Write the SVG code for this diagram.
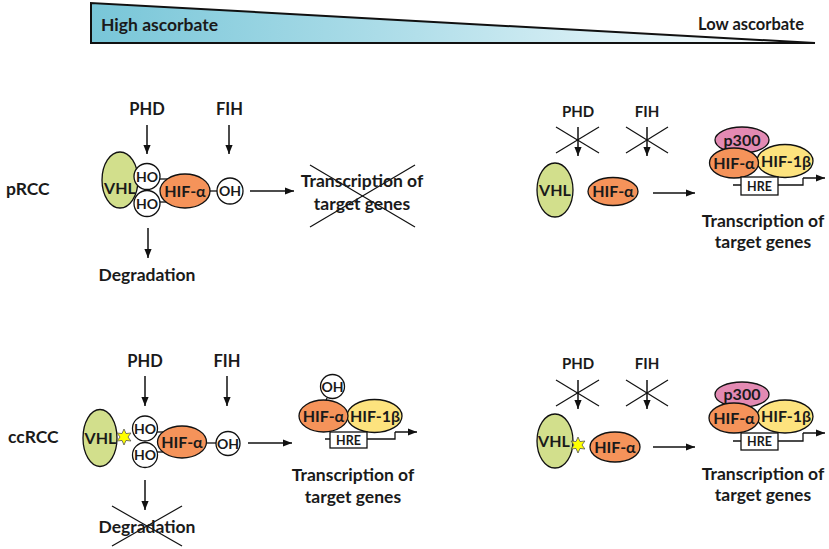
<svg xmlns="http://www.w3.org/2000/svg" width="829" height="549" viewBox="0 0 829 549">
<defs>
<linearGradient id="asc" gradientUnits="userSpaceOnUse" x1="91" y1="0" x2="815" y2="0">
<stop offset="0" stop-color="#78c6d8"/>
<stop offset="0.45" stop-color="#b2dfea"/>
<stop offset="0.85" stop-color="#eef8fb"/>
<stop offset="1" stop-color="#ffffff"/>
</linearGradient>
<marker id="ah" viewBox="0 0 10 8" refX="10" refY="4" markerWidth="9" markerHeight="7.5" markerUnits="userSpaceOnUse" orient="auto">
<path d="M0,0 L10,4 L0,8 z" fill="#111"/>
</marker>
<polygon id="star" points="0,-8 2,-3.46 6.93,-4 4,0 6.93,4 2,3.46 0,8 -2,3.46 -6.93,4 -4,0 -6.93,-4 -2,-3.46"/>
</defs>
<style>
text{font-family:Lato,"Open Sans","Liberation Sans",sans-serif;font-weight:700;fill:#1a1a1a;text-anchor:middle}
.big{font-size:17.5px}
.enz{font-size:16.5px}
.enz2{font-size:15px}
.in{font-size:16px}
.sm{font-size:14px}
.hre{font-size:12.5px}
.arr{stroke:#111;stroke-width:1.5;fill:none;marker-end:url(#ah)}
.ln{stroke:#111;stroke-width:1.3;fill:none}
.x{stroke:#111;stroke-width:1.2;fill:none}
.vhl{fill:#d2df8c;stroke:#111;stroke-width:1.3}
.hifa{fill:#f5935a;stroke:#111;stroke-width:1.3}
.hifb{fill:#fde37e;stroke:#111;stroke-width:1.3}
.p300{fill:#e38ab3;stroke:#111;stroke-width:1.3}
.oh{fill:#fff;stroke:#111;stroke-width:1.3}
.box{fill:#fff;stroke:#111;stroke-width:1.3}
.star{fill:#ffff00;stroke:#555;stroke-width:0.8}
</style>

<g id="ascorbate-gradient">
<polygon points="91,3 91,43 815,43" fill="url(#asc)" stroke="#111" stroke-width="2" stroke-linejoin="miter"/>
<text class="big" x="101" y="31" style="text-anchor:start">High ascorbate</text>
<text x="804" y="30" style="text-anchor:end;font-size:16.5px">Low ascorbate</text>
</g>

<g id="row-labels">
<text class="big" x="6" y="195" style="text-anchor:start">pRCC</text>
<text class="big" x="8" y="443" style="text-anchor:start">ccRCC</text>
</g>

<g id="connectors">
<line class="arr" x1="147" y1="125" x2="147" y2="154"/>
<line class="arr" x1="229" y1="125" x2="229" y2="154"/>
<line class="ln" x1="157" y1="179" x2="168" y2="179"/>
<line class="ln" x1="157" y1="202" x2="168" y2="202"/>
<line class="ln" x1="208" y1="191" x2="218" y2="191"/>
<line class="arr" x1="250" y1="191" x2="294" y2="191"/>
<line class="arr" x1="148" y1="228" x2="148" y2="258"/>
<line class="x" x1="310" y1="165" x2="415" y2="227"/>
<line class="x" x1="310" y1="227" x2="415" y2="165"/>
<line class="arr" x1="578" y1="127" x2="578" y2="156"/>
<line class="arr" x1="647" y1="127" x2="647" y2="156"/>
<line class="x" x1="556" y1="127" x2="599" y2="153"/>
<line class="x" x1="556" y1="153" x2="599" y2="127"/>
<line class="x" x1="626" y1="127" x2="668" y2="153"/>
<line class="x" x1="626" y1="153" x2="668" y2="127"/>
<line class="arr" x1="653" y1="193" x2="695" y2="193"/>
<line class="arr" x1="145" y1="376" x2="145" y2="406"/>
<line class="arr" x1="227" y1="376" x2="227" y2="406"/>
<line class="ln" x1="155" y1="432" x2="165" y2="432"/>
<line class="ln" x1="155" y1="452" x2="165" y2="452"/>
<line class="ln" x1="205" y1="443" x2="217" y2="443"/>
<line class="arr" x1="248" y1="443" x2="292" y2="443"/>
<line class="arr" x1="145" y1="480" x2="145" y2="510"/>
<line class="x" x1="112" y1="506" x2="182" y2="546"/>
<line class="x" x1="112" y1="546" x2="182" y2="506"/>
<line class="arr" x1="578" y1="380" x2="578" y2="409"/>
<line class="arr" x1="647" y1="380" x2="647" y2="409"/>
<line class="x" x1="556" y1="380" x2="599" y2="406"/>
<line class="x" x1="556" y1="406" x2="599" y2="380"/>
<line class="x" x1="626" y1="380" x2="668" y2="406"/>
<line class="x" x1="626" y1="406" x2="668" y2="380"/>
<line class="arr" x1="653" y1="447" x2="695" y2="447"/>
</g>

<g id="prcc-high">
<text class="enz" x="147" y="115">PHD</text>
<text class="enz" x="229.5" y="115">FIH</text>
<ellipse class="vhl" cx="120" cy="180" rx="18" ry="28"/>
<text class="in" x="120" y="193.5">VHL</text>
<circle class="oh" cx="147" cy="176.5" r="13"/>
<text class="sm" x="147" y="181.5">HO</text>
<circle class="oh" cx="147" cy="203.5" r="13"/>
<text class="sm" x="147" y="208.5">HO</text>
<ellipse class="hifa" cx="185" cy="191" rx="25" ry="17"/>
<text class="in" x="185" y="196.5">HIF-α</text>
<circle class="oh" cx="230" cy="191" r="13"/>
<text class="sm" x="230" y="196">OH</text>
<text class="big" x="147" y="281">Degradation</text>
<text class="big" x="362" y="187">Transcription of</text>
<text class="big" x="362" y="210">target genes</text>
</g>

<g id="prcc-low">
<text class="enz2" x="578" y="117">PHD</text>
<text class="enz2" x="647" y="117">FIH</text>
<ellipse class="vhl" cx="555" cy="190" rx="18" ry="27"/>
<text class="in" x="555" y="195.5">VHL</text>
<ellipse class="hifa" cx="613" cy="191.5" rx="25" ry="14"/>
<text class="in" x="613" y="197">HIF-α</text>
<ellipse class="p300" cx="742" cy="140" rx="27" ry="13"/>
<text class="in" x="742" y="145.5">p300</text>
<ellipse class="hifb" cx="785" cy="161" rx="28" ry="16.5"/>
<text class="in" x="786" y="166.5">HIF-1β</text>
<ellipse class="hifa" cx="734" cy="163" rx="24.5" ry="15"/>
<text class="in" x="734" y="168.5">HIF-α</text>
<polyline class="ln" points="733,185 803,185 803,178"/>
<line class="arr" x1="803" y1="178" x2="825" y2="178"/>
<rect class="box" x="741" y="177" width="37" height="18"/>
<text class="hre" x="759.5" y="190.5">HRE</text>
<text class="big" x="763" y="227">Transcription of</text>
<text class="big" x="763" y="248">target genes</text>
</g>

<g id="ccrcc-high">
<text class="enz" x="145" y="367">PHD</text>
<text class="enz" x="227" y="367">FIH</text>
<ellipse class="vhl" cx="100" cy="438" rx="17" ry="28.5"/>
<text class="in" x="100.5" y="443.5">VHL</text>
<use href="#star" class="star" x="124" y="437"/>
<circle class="oh" cx="145" cy="428.5" r="12.5"/>
<text class="sm" x="145" y="433.5">HO</text>
<circle class="oh" cx="145" cy="455" r="12.5"/>
<text class="sm" x="145" y="460">HO</text>
<ellipse class="hifa" cx="182" cy="442" rx="24.5" ry="16"/>
<text class="in" x="182" y="447.5">HIF-α</text>
<circle class="oh" cx="228" cy="443.5" r="12"/>
<text class="sm" x="228" y="448.5">OH</text>
<text class="big" x="147" y="533">Degradation</text>
</g>

<g id="ccrcc-transcription">
<line class="ln" x1="327" y1="398" x2="325" y2="403"/>
<circle class="oh" cx="332.5" cy="386.5" r="12"/>
<text class="sm" x="332.5" y="391.5">OH</text>
<ellipse class="hifb" cx="374.5" cy="416" rx="27.5" ry="16.5"/>
<text class="in" x="375" y="421.5">HIF-1β</text>
<ellipse class="hifa" cx="323.5" cy="416" rx="24.5" ry="16"/>
<text class="in" x="323.5" y="421.5">HIF-α</text>
<polyline class="ln" points="325,439 395,439 395,432"/>
<line class="arr" x1="395" y1="432" x2="417" y2="432"/>
<rect class="box" x="330" y="432" width="37" height="16"/>
<text class="hre" x="348.5" y="444.5">HRE</text>
<text class="big" x="353" y="481">Transcription of</text>
<text class="big" x="353" y="503">target genes</text>
</g>

<g id="ccrcc-low">
<text class="enz2" x="578" y="369">PHD</text>
<text class="enz2" x="647" y="369">FIH</text>
<ellipse class="vhl" cx="555" cy="441" rx="18" ry="27"/>
<text class="in" x="554" y="446.5">VHL</text>
<use href="#star" class="star" x="578" y="445"/>
<ellipse class="hifa" cx="615" cy="447" rx="25" ry="15"/>
<text class="in" x="615" y="452.5">HIF-α</text>
<ellipse class="p300" cx="742" cy="394.5" rx="27" ry="12.5"/>
<text class="in" x="742" y="400">p300</text>
<ellipse class="hifb" cx="785" cy="416.5" rx="28" ry="16.5"/>
<text class="in" x="786" y="422">HIF-1β</text>
<ellipse class="hifa" cx="734" cy="418" rx="25" ry="15"/>
<text class="in" x="734" y="423.5">HIF-α</text>
<polyline class="ln" points="733,441 803,441 803,433"/>
<line class="arr" x1="803" y1="433" x2="825" y2="433"/>
<rect class="box" x="741" y="433" width="37" height="17"/>
<text class="hre" x="759.5" y="446">HRE</text>
<text class="big" x="763" y="480">Transcription of</text>
<text class="big" x="763" y="501">target genes</text>
</g>
</svg>
